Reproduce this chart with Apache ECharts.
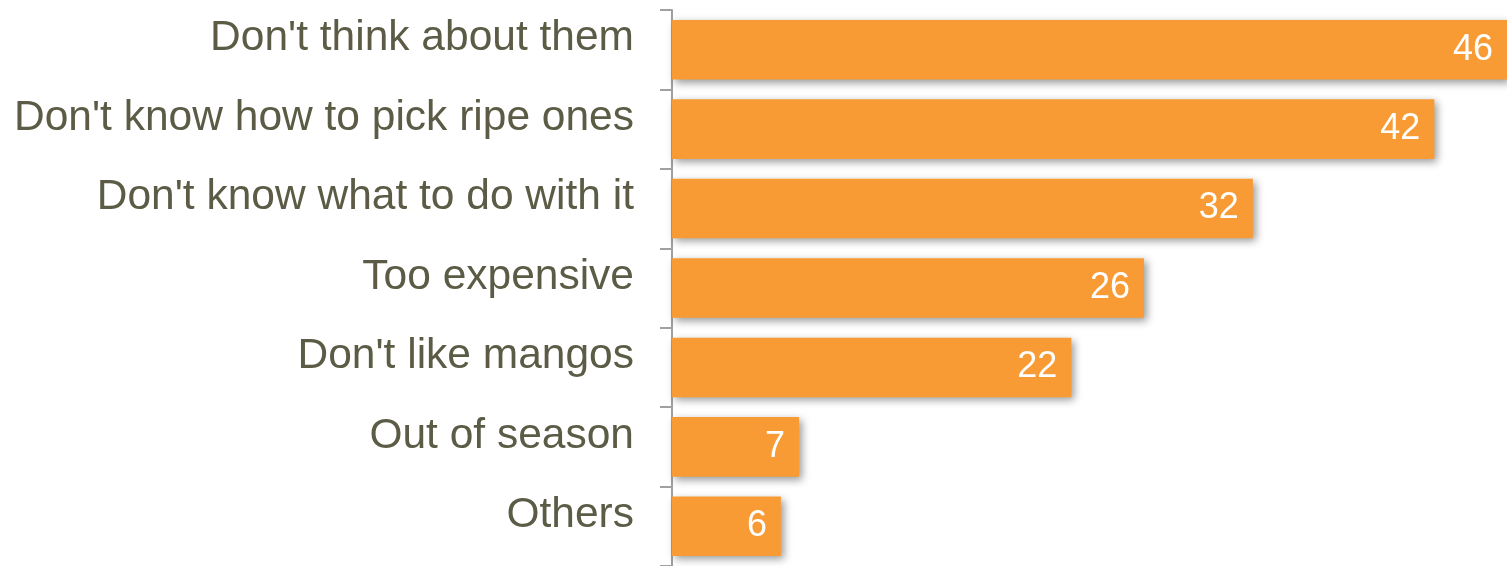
<!DOCTYPE html>
<html><head><meta charset="utf-8">
<script src="https://cdn.jsdelivr.net/npm/echarts@6/dist/echarts.min.js"></script>
<style>html,body{margin:0;padding:0;background:#fff}#c{width:1507px;height:566px}</style>
</head><body><div id="c"></div>
<script>
const categories = ["Don't think about them","Don't know how to pick ripe ones","Don't know what to do with it","Too expensive","Don't like mangos","Out of season","Others"];
const values = [46,42,32,26,22,7,6];
const chart = echarts.init(document.getElementById('c'));
chart.setOption({
  animation:false,
  grid:{left:672,right:0,top:10,bottom:-4,containLabel:false},
  xAxis:{type:'value',min:0,max:46,show:false},
  yAxis:{type:'category',data:categories,inverse:true,
    axisLine:{show:true,lineStyle:{color:'#a0a0a0',width:2}},
    axisTick:{show:true,length:12,alignWithLabel:false,lineStyle:{color:'#a0a0a0',width:2}},
    axisLabel:{margin:38,color:'#5c5c46',fontSize:42.5,fontFamily:'Liberation Sans, Arial, sans-serif',verticalAlign:'bottom',lineHeight:22}
  },
  series:[{type:'bar',data:values,barCategoryGap:'25%',
    itemStyle:{color:'#f99b34',shadowColor:'rgba(0,0,0,0.4)',shadowBlur:8,shadowOffsetX:3,shadowOffsetY:3},
    label:{show:true,position:'insideRight',distance:14,color:'#fff',fontSize:36,fontFamily:'Liberation Sans, Arial, sans-serif'}
  }]
});
</script></body></html>
